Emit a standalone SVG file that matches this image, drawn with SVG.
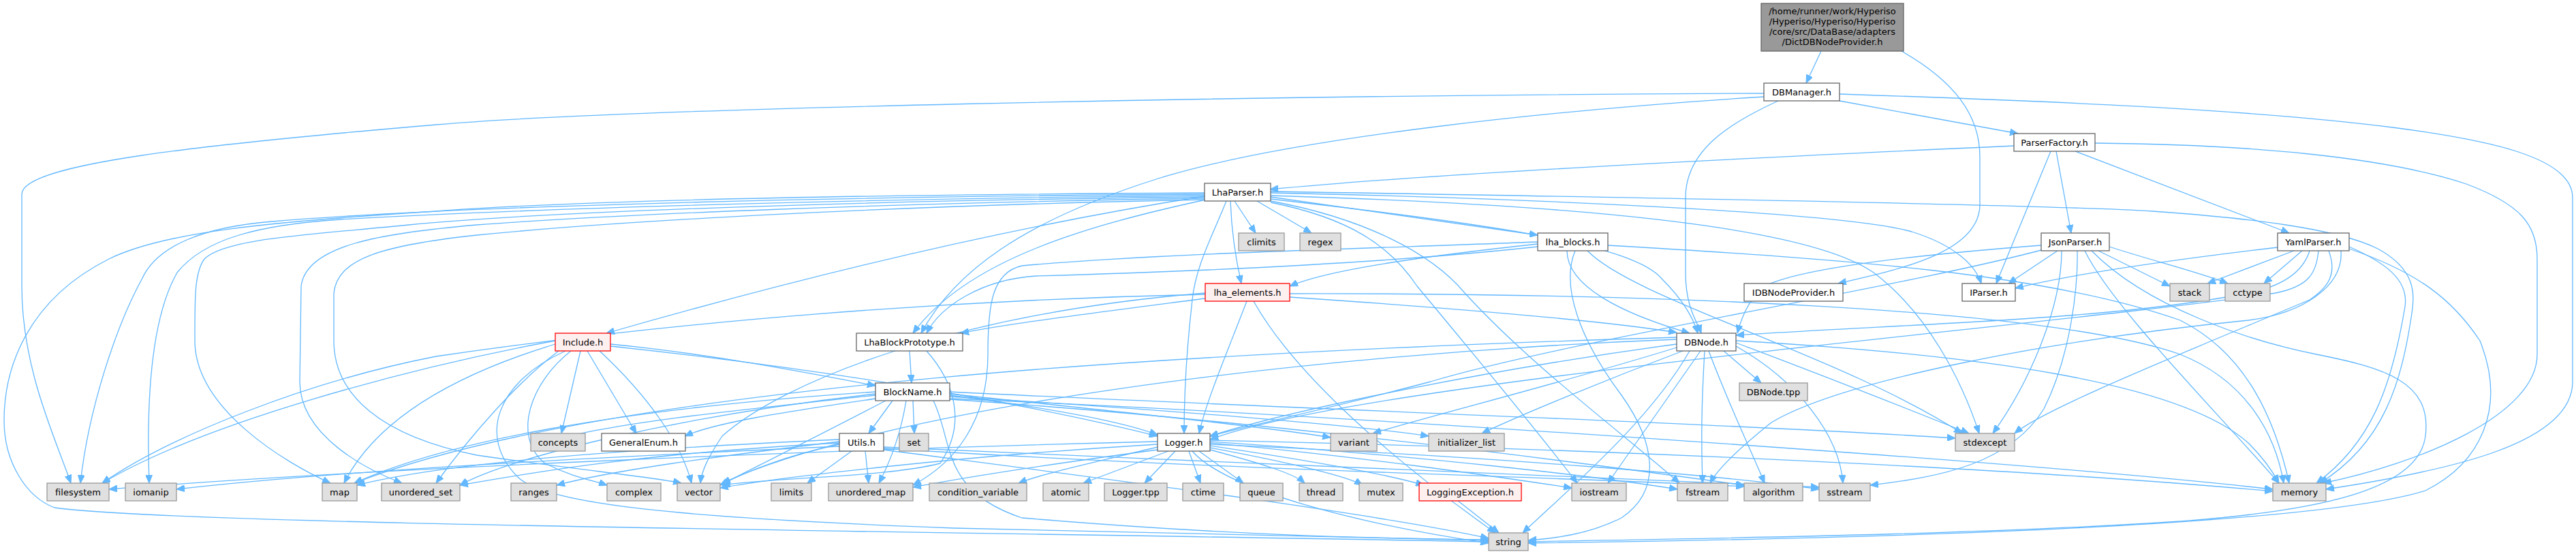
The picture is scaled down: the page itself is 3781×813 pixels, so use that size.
<svg xmlns="http://www.w3.org/2000/svg" width="3781" height="813" viewBox="0 0 3781 813">
<style>
text{font-family:"DejaVu Sans","Liberation Sans",sans-serif;font-size:13px;text-anchor:middle;fill:#000}
.n rect{fill:#fff;stroke:#666;stroke-width:1.3}
.x rect{fill:#e0e0e0;stroke:#999;stroke-width:1.3}
.r rect{fill:#fff0f0;stroke:#f00;stroke-width:1.3}
.root rect{fill:#999;stroke:#666;stroke-width:1.3}
#edges path{fill:none;stroke:#63b8ff;stroke-width:1.3;marker-end:url(#a)}
</style>
<defs>
<marker id="a" markerWidth="12" markerHeight="10" refX="12" refY="5" orient="auto" markerUnits="userSpaceOnUse"><path d="M0,0 L12,5 L0,10 z" fill="#63b8ff" stroke="#63b8ff"/></marker>
</defs>
<rect width="3781" height="813" fill="#fff"/>
<g id="edges">
<path d="M2673,75 L2651,122"/>
<path d="M2791,75 C2870,120 2906,170 2906,230 L2906,300 C2906,370 2790,395 2698,416"/>
<path d="M2589,137 C1800,140 900,160 640,183 C300,212 32,240 32,285 L32,420 C32,540 80,640 104,709"/>
<path d="M2589,142 C2300,160 1900,200 1700,262 C1500,325 1400,400 1352,489"/>
<path d="M2610,148 C2540,180 2474,220 2474,290 L2474,400 C2474,450 2490,470 2497,489"/>
<path d="M2700,148 L2962,196"/>
<path d="M2700,138 C3000,148 3300,160 3512,187 C3650,205 3776,230 3776,290 L3776,560 C3776,650 3600,690 3414,718"/>
<path d="M2956,214 C2600,230 2100,255 1864,278"/>
<path d="M3010,222 L2930,416"/>
<path d="M3018,222 L3040,342"/>
<path d="M3046,222 L3360,342"/>
<path d="M3075,210 C3300,212 3500,230 3620,270 C3700,300 3724,330 3724,380 L3724,520 C3724,610 3550,680 3410,709"/>
<path d="M1812,295 L1843,342"/>
<path d="M1845,295 L1925,342"/>
<path d="M1865,289 L2257,345"/>
<path d="M1768,288 C1500,330 1200,400 890,489"/>
<path d="M1770,293 C1600,330 1420,380 1340,489"/>
<path d="M1806,295 C1808,350 1816,390 1822,416"/>
<path d="M1800,295 C1780,345 1755,390 1750,440 C1742,510 1738,580 1738,636"/>
<path d="M1865,292 C2200,330 2400,360 2440,410 C2470,440 2485,465 2492,489"/>
<path d="M1865,283 C2200,290 2700,310 2806,340 C2870,360 2900,390 2908,416"/>
<path d="M1865,281 C2300,288 3000,300 3160,310 C3300,320 3430,335 3490,365 C3545,395 3545,430 3540,460 C3525,560 3500,650 3405,709"/>
<path d="M1768,283 C1400,285 900,290 640,310 C400,325 241,340 160,380 C40,440 6,540 6,617 C6,680 40,730 80,745 C250,770 1400,780 2185,795"/>
<path d="M1768,285 C1300,288 700,300 400,325 C300,333 230,360 208,410 C170,480 130,600 118,709"/>
<path d="M1768,287 C1300,291 800,305 500,322 C380,330 300,350 260,400 C220,470 215,600 219,709"/>
<path d="M1768,289 C1300,294 800,310 600,330 C450,345 330,350 300,380 C285,400 286,440 286,500 C286,600 420,680 485,709"/>
<path d="M1768,291 C1300,298 900,315 700,330 C560,342 449,360 442,420 L440,560 C440,640 540,690 590,709"/>
<path d="M1768,293 C1300,302 900,325 700,345 C560,360 495,380 490,430 L490,500 C490,580 560,640 700,668 C850,690 960,700 1000,709"/>
<path d="M1865,297 C1980,320 2040,360 2080,420 C2180,540 2270,650 2315,709"/>
<path d="M1865,295 C2000,320 2100,370 2150,430 C2250,540 2400,650 2465,709"/>
<path d="M1865,287 C2300,300 2650,330 2750,400 C2830,460 2880,560 2905,636"/>
<path d="M3020,368 L2948,416"/>
<path d="M2996,360 C2800,375 2640,395 2590,420 C2565,440 2555,470 2550,489"/>
<path d="M3026,368 C3026,450 2980,560 2925,636"/>
<path d="M3049,368 C3050,420 3040,520 3000,600 C2950,680 2850,700 2745,712"/>
<path d="M3080,368 L3185,420"/>
<path d="M3096,362 C3150,380 3230,400 3270,416"/>
<path d="M3060,368 C3100,450 3250,600 3345,709"/>
<path d="M3000,366 C2800,420 2300,500 2100,560 C1950,600 1830,625 1776,640"/>
<path d="M3070,368 C3150,450 3300,500 3400,520 C3500,540 3570,560 3560,640 C3550,720 3400,750 3200,765 C2900,785 2500,790 2243,795"/>
<path d="M3343,363 C3200,380 3050,400 2958,423"/>
<path d="M3367,368 L3240,416"/>
<path d="M3379,368 L3323,416"/>
<path d="M3390,368 C3380,400 3350,420 3300,430 C3100,470 2800,475 2548,492"/>
<path d="M3403,368 C3400,400 3390,420 3340,430 C3000,480 2000,560 1776,645"/>
<path d="M3418,368 C3430,400 3420,420 3390,440 C3200,520 3000,600 2957,636"/>
<path d="M3448,362 C3500,385 3536,410 3530,450 C3510,570 3480,650 3400,709"/>
<path d="M3448,365 C3550,400 3600,440 3640,500 C3680,600 3640,680 3560,720 C3400,770 2800,790 2243,797"/>
<path d="M3436,368 C3440,420 3380,460 3300,470 C3000,500 2700,560 2600,620 C2550,660 2520,690 2510,709"/>
<path d="M2257,362 C2000,390 1700,400 1521,405 C1440,410 1380,450 1360,489"/>
<path d="M2257,358 C2100,375 1950,395 1893,420"/>
<path d="M2257,355 C2000,365 1700,372 1500,390 C1455,400 1450,450 1450,520 C1450,620 1400,680 1340,712"/>
<path d="M2300,368 C2300,420 2380,460 2480,489"/>
<path d="M2360,360 C2700,380 3000,400 3200,470 C3300,520 3340,620 3360,709"/>
<path d="M2330,368 C2400,440 2700,520 2880,636"/>
<path d="M2312,368 C2290,420 2320,500 2380,580 C2430,650 2440,720 2380,760 C2330,785 2280,790 2243,793"/>
<path d="M1769,438 C1600,460 1480,475 1410,489"/>
<path d="M1893,436 C2100,450 2350,470 2461,488"/>
<path d="M1830,442 C1800,520 1770,590 1760,636"/>
<path d="M1893,431 C2400,430 3000,450 3200,520 C3300,560 3340,640 3352,709"/>
<path d="M1840,442 C1900,550 2050,680 2195,782"/>
<path d="M1769,430 C1400,460 1150,560 1060,640 C1040,670 1030,690 1028,709"/>
<path d="M1769,432 C1400,440 1000,470 640,523 C450,560 250,640 150,709"/>
<path d="M896,505 C1050,520 1200,550 1285,566"/>
<path d="M896,508 C1200,540 1500,590 1699,640"/>
<path d="M852,515 L824,636"/>
<path d="M862,515 L934,636"/>
<path d="M838,515 C780,560 750,640 800,680 C840,700 870,705 891,712"/>
<path d="M815,505 C700,540 560,600 505,709"/>
<path d="M815,500 C600,540 300,620 150,709"/>
<path d="M820,515 C760,560 690,640 640,709"/>
<path d="M830,515 C730,560 700,640 760,700 C800,740 1000,760 1400,775 C1800,785 2000,790 2185,793"/>
<path d="M880,515 C950,580 1000,650 1015,709"/>
<path d="M1335,515 L1338,562"/>
<path d="M1360,515 C1400,560 1420,620 1380,680 C1300,700 1150,700 1060,712"/>
<path d="M2530,515 L2585,562"/>
<path d="M2461,510 C2300,560 2100,610 2015,636"/>
<path d="M2470,515 C2350,560 2230,610 2175,636"/>
<path d="M2496,515 L2360,709"/>
<path d="M2502,515 C2497,600 2497,650 2499,709"/>
<path d="M2508,515 C2540,600 2570,660 2590,709"/>
<path d="M2548,508 C2640,560 2700,640 2705,709"/>
<path d="M2548,503 C2700,560 2800,600 2890,636"/>
<path d="M2548,500 C2900,520 3200,560 3300,650 C3330,680 3340,700 3345,709"/>
<path d="M2480,515 C2420,620 2300,720 2235,782"/>
<path d="M2461,505 C2200,540 1900,600 1776,640"/>
<path d="M2461,498 C1900,520 1300,600 1060,709"/>
<path d="M2461,495 C1800,515 900,560 520,709"/>
<path d="M1310,588 L1275,636"/>
<path d="M1340,588 L1342,636"/>
<path d="M1285,580 C1100,600 900,620 817,645"/>
<path d="M1285,585 C1150,605 1050,620 1005,640"/>
<path d="M1394,580 C1550,600 1650,620 1699,638"/>
<path d="M1300,588 C1200,640 1100,690 1057,712"/>
<path d="M1370,588 C1400,650 1380,720 1500,760 C1800,785 2000,790 2185,792"/>
<path d="M1285,575 C900,600 650,650 520,709"/>
<path d="M1285,578 C1000,610 750,670 675,712"/>
<path d="M1394,575 C1900,600 2500,620 2870,643"/>
<path d="M1394,578 C1600,600 1850,625 1953,642"/>
<path d="M1394,582 C1700,600 2000,625 2097,640"/>
<path d="M1394,585 C2000,610 3000,680 3336,718"/>
<path d="M1394,586 C1900,620 2400,690 2560,712"/>
<path d="M1330,588 C1320,650 1300,690 1290,709"/>
<path d="M1250,662 L1185,709"/>
<path d="M1270,662 L1275,709"/>
<path d="M1232,652 C1150,670 1100,690 1057,712"/>
<path d="M1232,648 C1050,670 900,690 817,712"/>
<path d="M1232,645 C900,660 650,680 524,712"/>
<path d="M1232,650 C950,665 800,690 675,712"/>
<path d="M1232,655 C900,670 500,690 259,718"/>
<path d="M1297,660 C1600,700 2000,750 2185,790"/>
<path d="M1297,656 C1800,680 2400,700 2670,715"/>
<path d="M1297,658 C1800,690 2300,700 2560,714"/>
<path d="M1699,656 C1600,680 1530,695 1495,709"/>
<path d="M1715,662 L1590,709"/>
<path d="M1725,662 L1680,709"/>
<path d="M1745,662 L1762,709"/>
<path d="M1760,662 L1825,709"/>
<path d="M1776,660 C1850,680 1900,695 1915,709"/>
<path d="M1776,657 C1900,680 1980,700 2000,712"/>
<path d="M1776,654 C1950,680 2050,700 2090,712"/>
<path d="M1776,650 C2000,670 2200,700 2307,716"/>
<path d="M1776,648 C2100,670 2350,700 2462,718"/>
<path d="M1750,662 C1800,720 2000,770 2185,797"/>
<path d="M1776,646 C2400,660 3000,690 3336,721"/>
<path d="M1699,648 C1200,660 500,690 160,718"/>
<path d="M1699,660 C1550,680 1420,700 1340,715"/>
<path d="M1699,652 C1400,670 1150,700 1057,716"/>
<path d="M1776,652 C2200,670 2550,700 2670,718"/>
<path d="M2140,735 L2200,782"/>
</g>
<g id="n_root" class="root"><rect x="2585" y="5" width="209" height="70"/><text x="2689.5" y="21">/home/runner/work/Hyperiso</text><text x="2689.5" y="36">/Hyperiso/Hyperiso/Hyperiso</text><text x="2689.5" y="51">/core/src/DataBase/adapters</text><text x="2689.5" y="66">/DictDBNodeProvider.h</text></g>
<g id="n_DBManager" class="n"><rect x="2589" y="122" width="111" height="26"/><text x="2644.5" y="139.5">DBManager.h</text></g>
<g id="n_ParserFactory" class="n"><rect x="2956" y="196" width="119" height="26"/><text x="3015.5" y="213.5">ParserFactory.h</text></g>
<g id="n_LhaParser" class="n"><rect x="1768" y="269" width="97" height="26"/><text x="1816.5" y="286.5">LhaParser.h</text></g>
<g id="n_climits" class="x"><rect x="1818" y="342" width="67" height="26"/><text x="1851.5" y="359.5">climits</text></g>
<g id="n_regex" class="x"><rect x="1908" y="342" width="60" height="26"/><text x="1938" y="359.5">regex</text></g>
<g id="n_lha_blocks" class="n"><rect x="2257" y="342" width="103" height="26"/><text x="2308.5" y="359.5">lha_blocks.h</text></g>
<g id="n_JsonParser" class="n"><rect x="2996" y="342" width="100" height="26"/><text x="3046" y="359.5">JsonParser.h</text></g>
<g id="n_YamlParser" class="n"><rect x="3343" y="342" width="105" height="26"/><text x="3395.5" y="359.5">YamlParser.h</text></g>
<g id="n_lha_elements" class="r"><rect x="1769" y="416" width="124" height="26"/><text x="1831" y="433.5">lha_elements.h</text></g>
<g id="n_IDBNodeProvider" class="n"><rect x="2560" y="416" width="145" height="26"/><text x="2632.5" y="433.5">IDBNodeProvider.h</text></g>
<g id="n_IParser" class="n"><rect x="2880" y="416" width="78" height="26"/><text x="2919" y="433.5">IParser.h</text></g>
<g id="n_stack" class="x"><rect x="3185" y="416" width="58" height="26"/><text x="3214" y="433.5">stack</text></g>
<g id="n_cctype" class="x"><rect x="3266" y="416" width="66" height="26"/><text x="3299" y="433.5">cctype</text></g>
<g id="n_Include" class="r"><rect x="815" y="489" width="81" height="26"/><text x="855.5" y="506.5">Include.h</text></g>
<g id="n_LhaBlockPrototype" class="n"><rect x="1257" y="489" width="156" height="26"/><text x="1335" y="506.5">LhaBlockPrototype.h</text></g>
<g id="n_DBNode" class="n"><rect x="2461" y="489" width="87" height="26"/><text x="2504.5" y="506.5">DBNode.h</text></g>
<g id="n_BlockName" class="n"><rect x="1285" y="562" width="109" height="26"/><text x="1339.5" y="579.5">BlockName.h</text></g>
<g id="n_DBNode_tpp" class="x"><rect x="2553" y="562" width="100" height="26"/><text x="2603" y="579.5">DBNode.tpp</text></g>
<g id="n_concepts" class="x"><rect x="779" y="636" width="80" height="26"/><text x="819" y="653.5">concepts</text></g>
<g id="n_GeneralEnum" class="n"><rect x="883" y="636" width="123" height="26"/><text x="944.5" y="653.5">GeneralEnum.h</text></g>
<g id="n_Utils" class="n"><rect x="1232" y="636" width="65" height="26"/><text x="1264.5" y="653.5">Utils.h</text></g>
<g id="n_set" class="x"><rect x="1320" y="636" width="43" height="26"/><text x="1341.5" y="653.5">set</text></g>
<g id="n_Logger" class="n"><rect x="1699" y="636" width="77" height="26"/><text x="1737.5" y="653.5">Logger.h</text></g>
<g id="n_variant" class="x"><rect x="1953" y="636" width="68" height="26"/><text x="1987" y="653.5">variant</text></g>
<g id="n_initializer_list" class="x"><rect x="2097" y="636" width="111" height="26"/><text x="2152.5" y="653.5">initializer_list</text></g>
<g id="n_stdexcept" class="x"><rect x="2870" y="636" width="87" height="26"/><text x="2913.5" y="653.5">stdexcept</text></g>
<g id="n_filesystem" class="x"><rect x="69" y="709" width="91" height="26"/><text x="114.5" y="726.5">filesystem</text></g>
<g id="n_iomanip" class="x"><rect x="184" y="709" width="75" height="26"/><text x="221.5" y="726.5">iomanip</text></g>
<g id="n_map" class="x"><rect x="473" y="709" width="51" height="26"/><text x="498.5" y="726.5">map</text></g>
<g id="n_unordered_set" class="x"><rect x="560" y="709" width="115" height="26"/><text x="617.5" y="726.5">unordered_set</text></g>
<g id="n_ranges" class="x"><rect x="750" y="709" width="67" height="26"/><text x="783.5" y="726.5">ranges</text></g>
<g id="n_complex" class="x"><rect x="891" y="709" width="79" height="26"/><text x="930.5" y="726.5">complex</text></g>
<g id="n_vector" class="x"><rect x="994" y="709" width="63" height="26"/><text x="1025.5" y="726.5">vector</text></g>
<g id="n_limits" class="x"><rect x="1132" y="709" width="59" height="26"/><text x="1161.5" y="726.5">limits</text></g>
<g id="n_unordered_map" class="x"><rect x="1216" y="709" width="124" height="26"/><text x="1278" y="726.5">unordered_map</text></g>
<g id="n_condition_variable" class="x"><rect x="1364" y="709" width="143" height="26"/><text x="1435.5" y="726.5">condition_variable</text></g>
<g id="n_atomic" class="x"><rect x="1531" y="709" width="67" height="26"/><text x="1564.5" y="726.5">atomic</text></g>
<g id="n_Logger_tpp" class="x"><rect x="1621" y="709" width="92" height="26"/><text x="1667" y="726.5">Logger.tpp</text></g>
<g id="n_ctime" class="x"><rect x="1736" y="709" width="60" height="26"/><text x="1766" y="726.5">ctime</text></g>
<g id="n_queue" class="x"><rect x="1820" y="709" width="63" height="26"/><text x="1851.5" y="726.5">queue</text></g>
<g id="n_thread" class="x"><rect x="1907" y="709" width="64" height="26"/><text x="1939" y="726.5">thread</text></g>
<g id="n_mutex" class="x"><rect x="1995" y="709" width="64" height="26"/><text x="2027" y="726.5">mutex</text></g>
<g id="n_LoggingException" class="r"><rect x="2083" y="709" width="150" height="26"/><text x="2158" y="726.5">LoggingException.h</text></g>
<g id="n_iostream" class="x"><rect x="2307" y="709" width="80" height="26"/><text x="2347" y="726.5">iostream</text></g>
<g id="n_fstream" class="x"><rect x="2462" y="709" width="74" height="26"/><text x="2499" y="726.5">fstream</text></g>
<g id="n_algorithm" class="x"><rect x="2560" y="709" width="86" height="26"/><text x="2603" y="726.5">algorithm</text></g>
<g id="n_sstream" class="x"><rect x="2670" y="709" width="75" height="26"/><text x="2707.5" y="726.5">sstream</text></g>
<g id="n_memory" class="x"><rect x="3336" y="709" width="78" height="26"/><text x="3375" y="726.5">memory</text></g>
<g id="n_string" class="x"><rect x="2185" y="782" width="58" height="26"/><text x="2214" y="799.5">string</text></g>
</svg>
